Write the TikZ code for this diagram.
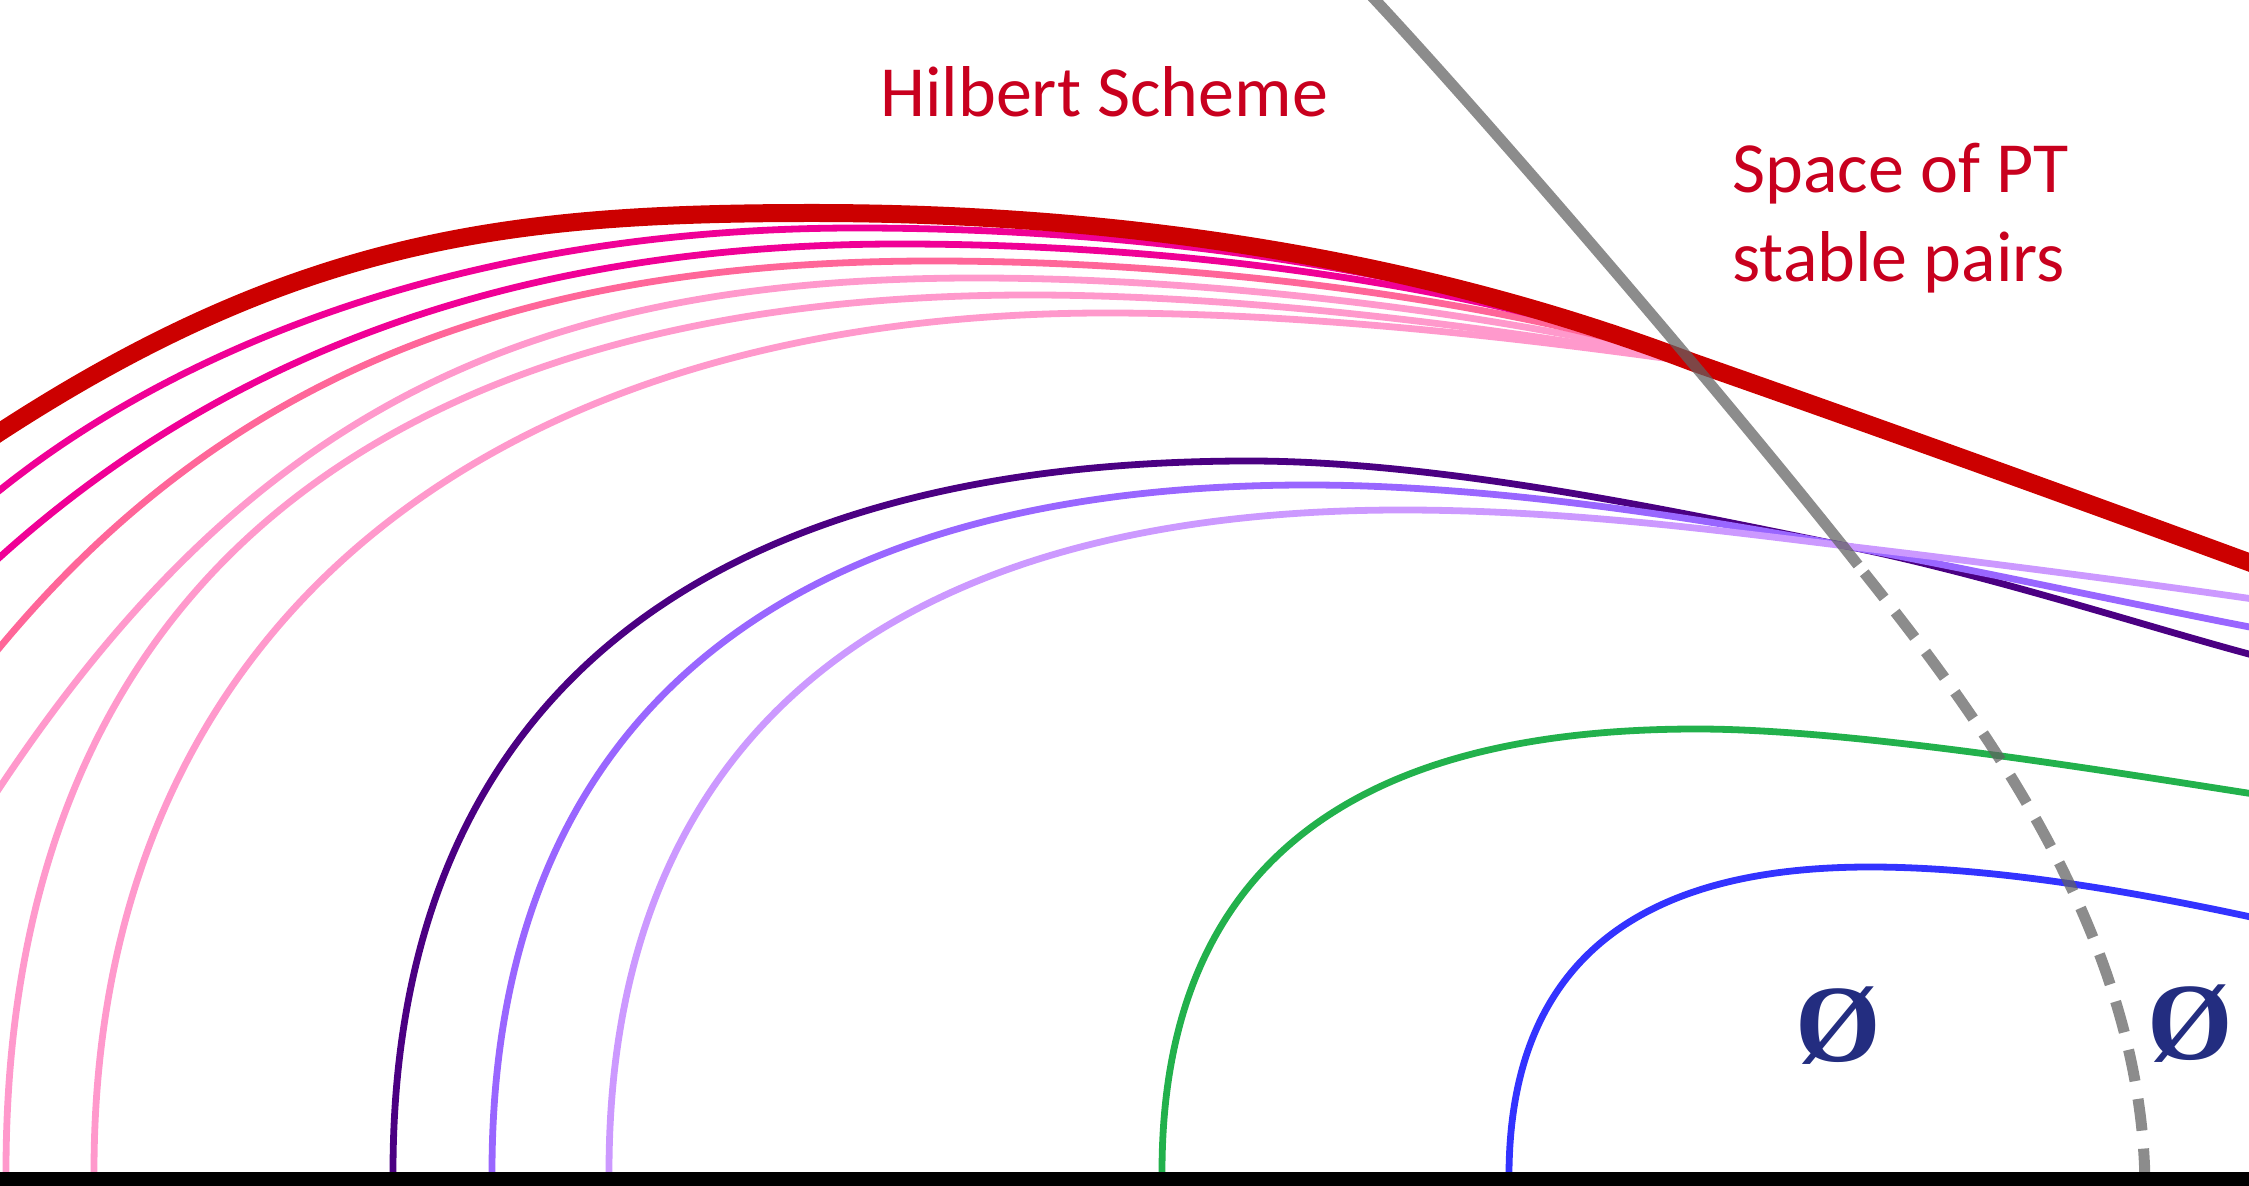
\documentclass[tikz,border=0pt]{standalone}
\usepackage{fontspec}
\setmainfont{Carlito}
\newfontfamily\emptyfont{Liberation Serif}
\definecolor{hilbred}{RGB}{200,0,30}
\definecolor{redc}{RGB}{204,0,0}
\definecolor{magc}{RGB}{240,0,150}
\definecolor{salc}{RGB}{255,102,153}
\definecolor{lpinkc}{RGB}{255,153,204}
\definecolor{dpurc}{RGB}{75,0,130}
\definecolor{mpurc}{RGB}{153,102,255}
\definecolor{lpurc}{RGB}{204,153,255}
\definecolor{greenc}{RGB}{34,177,76}
\definecolor{bluec}{RGB}{51,51,255}
\definecolor{grayc}{RGB}{97,97,97}
\definecolor{navyc}{RGB}{35,45,128}
\begin{document}
\begin{tikzpicture}[x=0.5pt,y=-0.5pt,line join=round,
  thin curve/.style={line width=3.4pt},
  thick curve/.style={line width=9pt},
  boundary/.style={grayc,opacity=0.725,line width=5.5pt},
  labeltext/.style={hilbred,inner sep=0pt,anchor=base west,font=\fontsize{36}{44}\selectfont},
  emptysym/.style={navyc,inner sep=0pt,font=\emptyfont\bfseries\fontsize{55}{55}\selectfont}]
\useasboundingbox (0,0) rectangle (2249,1186);
% pink family
\draw[thin curve,lpinkc] (94,1190) -- (94,1172) .. controls (94,600) and (520,313) .. (1106,313) .. controls (1320,313) and (1550,342) .. (1692,362);
\draw[thin curve,lpinkc] (6,1190) -- (6,1172) .. controls (6,540) and (440,295) .. (1030,295) .. controls (1270,295) and (1540,335) .. (1692,362);
\draw[thin curve,lpinkc] (-20,817) -- (0,787) .. controls (250,412) and (526,278) .. (976,278) .. controls (1230,278) and (1520,318) .. (1692,362);
\draw[thin curve,salc] (-30,683) -- (0,647) .. controls (220,383) and (503,261) .. (933,261) .. controls (1200,261) and (1500,300) .. (1692,362);
\draw[thin curve,magc] (-30,584) -- (0,557) .. controls (200,377) and (480,244) .. (900,244) .. controls (1180,244) and (1480,285) .. (1692,362);
\draw[thin curve,magc] (-30,514) -- (0,490) .. controls (180,346) and (470,228) .. (857,228) .. controls (1150,228) and (1450,272) .. (1692,362);
\draw[thick curve,redc] (-30,452) -- (0,432) .. controls (300,237) and (513,213) .. (813,213) .. controls (1150,213) and (1442,267) .. (1692,362) .. controls (1892,432) and (2099,507) .. (2270,570);
% purple family
\draw[thin curve,dpurc] (393,1190) -- (393,1172) .. controls (393,700) and (700,461) .. (1249,461) .. controls (1450,461) and (1700,517) .. (1846,546) .. controls (1990,575) and (2150,628) .. (2260,657);
\draw[thin curve,mpurc] (492,1190) -- (492,1172) .. controls (492,716) and (785,485) .. (1308,485) .. controls (1500,485) and (1720,522) .. (1846,546) .. controls (1990,573) and (2150,608) .. (2260,629);
\draw[thin curve,lpurc] (609,1190) -- (609,1172) .. controls (609,732) and (894,510) .. (1402,510) .. controls (1570,510) and (1730,532) .. (1846,546) .. controls (1990,563) and (2150,584) .. (2260,600);
% green and blue
\draw[thin curve,greenc] (1162,1190) -- (1162,1172) .. controls (1162,830) and (1400,729) .. (1697,729) .. controls (1850,729) and (2100,770) .. (2260,795);
\draw[thin curve,bluec] (1509,1190) -- (1509,1172) .. controls (1511,930) and (1680,867) .. (1870,867) .. controls (2000,867) and (2150,895) .. (2260,919);
% boundary line
\coordinate (gtop) at (1364,-12);
\coordinate (gsplit) at (1858,565);
\coordinate (gbot) at (2145,1190);
\draw[boundary] (gtop) .. controls (1470,100) and (1720,390) .. (gsplit);
\draw[boundary,dash pattern=on 16pt off 9pt,dash phase=20pt] (gsplit) .. controls (1978,715) and (2145,936) .. (gbot);
% bottom bar
\fill[black] (0,1172) rectangle (2249,1192);
% labels
\node[labeltext] (hilb) at (880,117) {Hilbert Scheme};
\node[labeltext] (pt1) at (1732,193) {Space of PT};
\node[labeltext] (pt2) at (1732,282) {stable pairs};
\node[emptysym] (e1) at (1838,1026) {Ø};
\node[emptysym] (e2) at (2190,1024) {Ø};
\end{tikzpicture}
\end{document}
